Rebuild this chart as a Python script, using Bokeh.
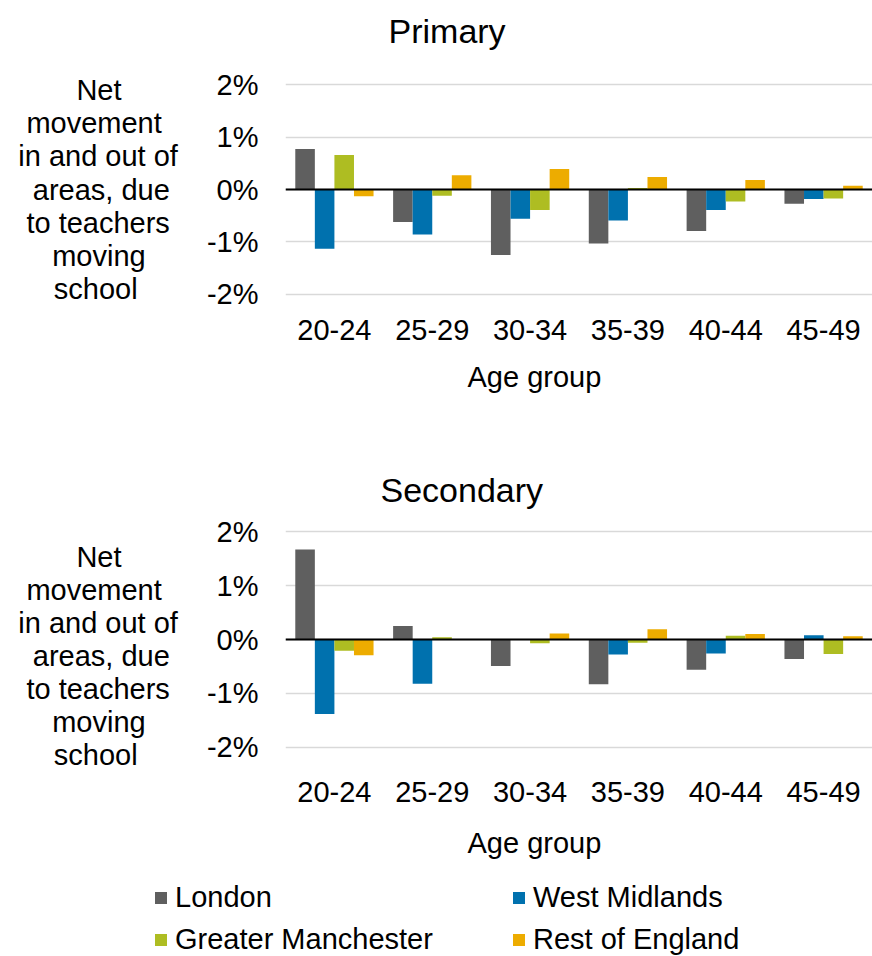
from bokeh.plotting import figure
from bokeh.models import (FactorRange, FixedTicker, PrintfTickFormatter, Span, Title,
                          Legend, LegendItem, ColumnDataSource, Range1d)
from bokeh.layouts import column
from bokeh.transform import dodge
from bokeh.embed import file_html
from bokeh.resources import INLINE

# ---- data ----
age_groups = ["20-24", "25-29", "30-34", "35-39", "40-44", "45-49"]
series_names = ["London", "West Midlands", "Greater Manchester", "Rest of England"]
series_colors = ["#5F5F5F", "#0071AE", "#AEBD22", "#EDAC00"]

primary_london = [0.77, -0.62, -1.25, -1.03, -0.79, -0.27]
primary_west_midlands = [-1.13, -0.86, -0.56, -0.59, -0.39, -0.18]
primary_greater_manchester = [0.66, -0.12, -0.39, 0.03, -0.23, -0.17]
primary_rest_of_england = [-0.13, 0.27, 0.39, 0.24, 0.18, 0.07]

secondary_london = [1.67, 0.25, -0.49, -0.83, -0.56, -0.36]
secondary_west_midlands = [-1.38, -0.82, 0.0, -0.28, -0.26, 0.08]
secondary_greater_manchester = [-0.21, 0.04, -0.07, -0.06, 0.07, -0.27]
secondary_rest_of_england = [-0.29, 0.0, 0.11, 0.19, 0.10, 0.06]

y_ticks = [-2, -1, 0, 1, 2]
y_title_lines = ["Net", "movement", "in and out of", "areas, due", "to teachers", "moving", "school"]
x_title = "Age group"

FONT = "Liberation Sans"
LBL = "29px"
keys = ["london", "wm", "gm", "roe"]
offsets = [-0.3, -0.1, 0.1, 0.3]
W = 872
NBSP = "\u00a0"
# right padding so that the right-aligned lines of the axis title read as centred
pad_counts = [7, 2, 0, 1, 1, 4, 5]
y_title_text = "\n".join(l + NBSP * n for l, n in zip(y_title_lines, pad_counts))


def make_source(values):
    return ColumnDataSource(dict(age=age_groups, **{k: v for k, v in zip(keys, values)}))


def make_chart(title, values, height, top, bottom, title_standoff,
               title_offset, tick_standoff, xtitle_standoff, ytitle_text, title_pad=0):
    src = make_source(values)
    p = figure(x_range=FactorRange(*age_groups, range_padding=0),
               y_range=Range1d(-2.04, 2.04),
               width=W, height=height, output_backend="svg", toolbar_location=None,
               min_border_left=285, min_border_right=0, min_border_top=top,
               min_border_bottom=bottom, title=title)
    p.outline_line_color = None
    p.title.text_font = FONT
    p.title.text_font_size = "34px"
    p.title.text_font_style = "normal"
    p.title.text_color = "black"
    p.title.align = "left"
    p.title.offset = title_offset
    p.title.standoff = title_standoff
    if title_pad:
        try:
            p.title.padding = {"left": 0, "right": 0, "top": 0, "bottom": title_pad}
        except Exception:
            p.title.standoff = 42

    for k, off, c in zip(keys, offsets, series_colors):
        p.vbar(x=dodge("age", off, range=p.x_range), top=k, bottom=0, width=0.2,
               source=src, fill_color=c, line_color=None)

    p.add_layout(Span(location=0, dimension="width", line_color="black", line_width=2))

    p.xgrid.grid_line_color = None
    p.ygrid.ticker = FixedTicker(ticks=y_ticks)
    p.ygrid.grid_line_color = "#D9D9D9"
    p.ygrid.grid_line_width = 1.5

    p.yaxis.ticker = FixedTicker(ticks=y_ticks)
    p.yaxis.formatter = PrintfTickFormatter(format="%d%%")
    for ax in (p.xaxis, p.yaxis):
        ax.axis_line_color = None
        ax.major_tick_line_color = None
        ax.minor_tick_line_color = None
        ax.major_tick_out = 0
        ax.major_tick_in = 0
        ax.minor_tick_out = 0
        ax.major_label_text_font = FONT
        ax.major_label_text_font_size = LBL
        ax.major_label_text_color = "black"
    p.yaxis.major_label_standoff = 27
    p.xaxis.major_label_standoff = tick_standoff

    yax = p.yaxis[0]
    yax.axis_label = ytitle_text
    yax.axis_label_orientation = "horizontal"
    yax.axis_label_text_align = "center"
    yax.axis_label_text_font = FONT
    yax.axis_label_text_font_size = LBL
    yax.axis_label_text_font_style = "normal"
    yax.axis_label_text_color = "black"
    yax.axis_label_text_line_height = 1.034
    yax.axis_label_standoff = 26

    p.add_layout(Title(text=x_title, align="left", offset=182, standoff=xtitle_standoff,
                       text_font=FONT, text_font_size=LBL, text_font_style="normal",
                       text_color="black"), "below")
    return p


p1 = make_chart("Primary",
                [primary_london, primary_west_midlands, primary_greater_manchester, primary_rest_of_england],
                height=419, top=82, bottom=123, title_standoff=0, title_pad=33,
                title_offset=103, tick_standoff=23, xtitle_standoff=32,
                ytitle_text=y_title_text)
secondary_values = [secondary_london, secondary_west_midlands, secondary_greater_manchester,
                    secondary_rest_of_england]
p2 = make_chart("Secondary", secondary_values,
                height=462, top=110, bottom=132, title_standoff=42,
                title_offset=95, tick_standoff=32, xtitle_standoff=40,
                ytitle_text="\n" + y_title_text)

# ---- legend strip (legend-only renderers, hidden) ----
p3 = figure(width=W, height=75, output_backend="svg", toolbar_location=None,
            x_range=FactorRange(*age_groups), y_range=Range1d(-2, 2),
            x_axis_location=None, y_axis_location=None,
            min_border_left=153, min_border_right=0, min_border_top=0, min_border_bottom=0)
try:
    p3.frame_align = False
except Exception:
    pass
p3.grid.visible = False
p3.outline_line_color = None
src3 = make_source(secondary_values)
legend_renderers = []
for k, off, c in zip(keys, offsets, series_colors):
    r = p3.vbar(x=dodge("age", off, range=p3.x_range), top=k, bottom=0, width=0.2,
                source=src3, fill_color=c, line_color=None, visible=False)
    legend_renderers.append(r)
legend = Legend(items=[LegendItem(label=n, renderers=[r]) for n, r in zip(series_names, legend_renderers)],
                orientation="horizontal", ncols=2, location=(0, 0),
                padding=0, margin=0, spacing=9, border_line_color=None, background_fill_alpha=0,
                glyph_width=15, glyph_height=15, label_standoff=7, label_width=327, label_height=33,
                inactive_fill_alpha=0,
                label_text_font=FONT, label_text_font_size=LBL, label_text_color="black")
p3.add_layout(legend)

layout = column(p1, p2, p3, spacing=0)
open("out.html", "w").write(file_html(layout, INLINE))
